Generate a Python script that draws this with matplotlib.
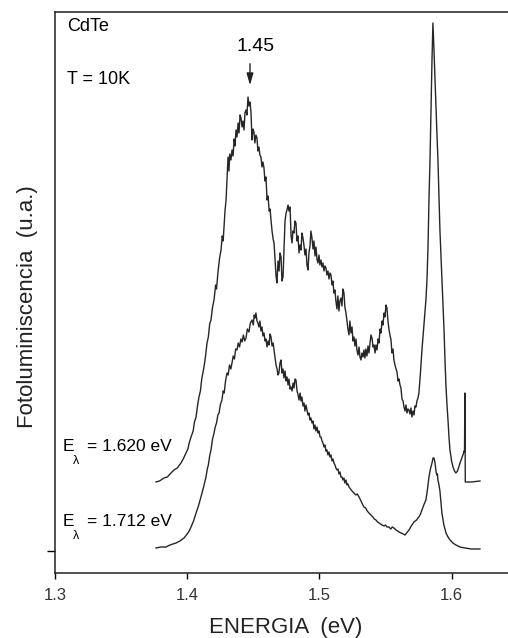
import matplotlib.pyplot as plt

plt.rcParams['font.family'] = ['Liberation Sans', 'DejaVu Sans']

# espectro excitado com E_lambda = 1.620 eV (curva de cima)
energia_1620 = [
    1.3764, 1.3790, 1.3825, 1.3850, 1.3870, 1.3900, 1.3925, 1.3953, 1.3970, 1.3991,
    1.4005, 1.4015, 1.4029, 1.4045, 1.4055, 1.4067, 1.4078, 1.4089, 1.4100, 1.4110,
    1.4127, 1.4137, 1.4150, 1.4160, 1.4170, 1.4180, 1.4192, 1.4203, 1.4215, 1.4222,
    1.4233, 1.4245, 1.4256, 1.4265, 1.4272, 1.4278, 1.4286, 1.4294, 1.4300, 1.4309,
    1.4316, 1.4322, 1.4331, 1.4339, 1.4347, 1.4355, 1.4362, 1.4369, 1.4377, 1.4385,
    1.4392, 1.4400, 1.4407, 1.4415, 1.4422, 1.4430, 1.4437, 1.4445, 1.4452, 1.4460,
    1.4468, 1.4475, 1.4483, 1.4490, 1.4497, 1.4505, 1.4512, 1.4520, 1.4528, 1.4535,
    1.4543, 1.4550, 1.4558, 1.4566, 1.4573, 1.4581, 1.4588, 1.4596, 1.4604, 1.4612,
    1.4620, 1.4627, 1.4634, 1.4642, 1.4650, 1.4657, 1.4665, 1.4672, 1.4679, 1.4687,
    1.4695, 1.4702, 1.4710, 1.4717, 1.4725, 1.4733, 1.4740, 1.4748, 1.4755, 1.4763,
    1.4770, 1.4778, 1.4786, 1.4793, 1.4800, 1.4808, 1.4815, 1.4823, 1.4830, 1.4838,
    1.4846, 1.4853, 1.4861, 1.4868, 1.4876, 1.4884, 1.4891, 1.4899, 1.4906, 1.4914,
    1.4921, 1.4929, 1.4936, 1.4944, 1.4952, 1.4959, 1.4967, 1.4974, 1.4982, 1.4989,
    1.4997, 1.5004, 1.5012, 1.5020, 1.5027, 1.5035, 1.5042, 1.5050, 1.5057, 1.5065,
    1.5073, 1.5080, 1.5088, 1.5095, 1.5103, 1.5110, 1.5118, 1.5125, 1.5133, 1.5140,
    1.5148, 1.5155, 1.5163, 1.5171, 1.5178, 1.5186, 1.5193, 1.5201, 1.5209, 1.5216,
    1.5224, 1.5231, 1.5239, 1.5247, 1.5254, 1.5262, 1.5269, 1.5277, 1.5284, 1.5292,
    1.5300, 1.5307, 1.5315, 1.5322, 1.5330, 1.5337, 1.5345, 1.5352, 1.5360, 1.5368,
    1.5375, 1.5383, 1.5390, 1.5398, 1.5406, 1.5413, 1.5421, 1.5428, 1.5436, 1.5444,
    1.5451, 1.5459, 1.5466, 1.5474, 1.5481, 1.5489, 1.5496, 1.5504, 1.5511, 1.5519,
    1.5526, 1.5534, 1.5542, 1.5549, 1.5557, 1.5564, 1.5572, 1.5580, 1.5587, 1.5595,
    1.5602, 1.5610, 1.5617, 1.5625, 1.5633, 1.5640, 1.5648, 1.5655, 1.5663, 1.5670,
    1.5678, 1.5685, 1.5693, 1.5700, 1.5708, 1.5716, 1.5723, 1.5731, 1.5738, 1.5746,
    1.5753, 1.5763, 1.5776, 1.5790, 1.5806, 1.5814, 1.5822, 1.5829, 1.5837, 1.5845,
    1.5852, 1.5859, 1.5867, 1.5875, 1.5882, 1.5890, 1.5897, 1.5905, 1.5912, 1.5920,
    1.5927, 1.5935, 1.5943, 1.5950, 1.5958, 1.5966, 1.5973, 1.5980, 1.5988, 1.6000,
    1.6011, 1.6022, 1.6033, 1.6045, 1.6055, 1.6064, 1.6075, 1.6086, 1.6095, 1.6098,
    1.6101, 1.6104, 1.6150, 1.6215]
pl_1620 = [
    0.69, 0.70, 0.73, 0.74, 0.77, 0.81, 0.83, 0.88, 0.92, 0.98,
    1.02, 1.08, 1.14, 1.20, 1.29, 1.34, 1.45, 1.54, 1.60, 1.72,
    1.84, 1.93, 2.08, 2.14, 2.27, 2.31, 2.44, 2.51, 2.66, 2.62,
    2.79, 2.93, 3.01, 3.15, 3.10, 3.23, 3.40, 3.51, 3.68, 3.94,
    3.80, 3.97, 3.91, 4.01, 3.95, 4.12, 4.05, 4.21, 4.14, 4.28,
    4.18, 4.36, 4.33, 4.24, 4.30, 4.21, 4.38, 4.41, 4.36, 4.54,
    4.45, 4.49, 4.38, 4.11, 4.22, 4.19, 4.08, 4.16, 4.13, 4.00,
    4.04, 3.96, 3.94, 3.84, 3.89, 3.83, 3.70, 3.74, 3.51, 3.55,
    3.40, 3.42, 3.31, 3.20, 3.12, 3.08, 2.90, 2.75, 2.68, 2.90,
    2.80, 2.98, 2.94, 2.70, 2.74, 3.05, 3.30, 3.38, 3.41, 3.46,
    3.40, 3.44, 3.15, 3.08, 3.20, 3.18, 3.30, 3.28, 3.10, 3.15,
    2.98, 3.06, 3.01, 3.18, 3.13, 3.05, 2.96, 3.02, 2.86, 2.81,
    2.98, 3.05, 3.20, 3.13, 3.02, 3.10, 2.95, 3.04, 2.92, 2.88,
    2.96, 2.86, 2.91, 2.84, 2.88, 2.80, 2.85, 2.83, 2.76, 2.80,
    2.72, 2.78, 2.76, 2.66, 2.70, 2.58, 2.61, 2.50, 2.42, 2.55,
    2.40, 2.50, 2.53, 2.45, 2.62, 2.58, 2.44, 2.38, 2.30, 2.22,
    2.16, 2.30, 2.18, 2.24, 2.10, 2.14, 2.05, 2.12, 2.01, 1.96,
    2.04, 1.94, 1.91, 1.98, 1.94, 2.01, 1.93, 2.02, 1.95, 2.05,
    1.98, 2.08, 2.16, 2.13, 2.04, 2.06, 1.98, 2.06, 2.01, 2.12,
    2.08, 2.22, 2.18, 2.30, 2.26, 2.38, 2.34, 2.46, 2.43, 2.30,
    2.22, 2.16, 2.11, 1.98, 2.02, 1.91, 1.86, 1.82, 1.79, 1.70,
    1.72, 1.66, 1.63, 1.52, 1.50, 1.44, 1.40, 1.46, 1.38, 1.42,
    1.41, 1.37, 1.43, 1.34, 1.40, 1.36, 1.45, 1.44, 1.50, 1.53,
    1.58, 1.75, 2.01, 2.25, 2.51, 2.71, 3.05, 3.51, 3.91, 4.45,
    4.91, 5.28, 5.01, 4.70, 4.41, 4.15, 3.91, 3.55, 3.21, 2.95,
    2.71, 2.45, 2.21, 1.92, 1.64, 1.45, 1.31, 1.15, 1.01, 0.90,
    0.84, 0.80, 0.78, 0.80, 0.84, 0.88, 0.92, 0.96, 1.00, 0.99,
    1.58, 0.69, 0.69, 0.70]

# espectro excitado com E_lambda = 1.712 eV (curva de baixo)
energia_1712 = [
    1.3764, 1.3800, 1.3840, 1.3870, 1.3915, 1.3945, 1.3976, 1.4000, 1.4015, 1.4029,
    1.4048, 1.4067, 1.4085, 1.4104, 1.4122, 1.4142, 1.4152, 1.4160, 1.4170, 1.4180,
    1.4192, 1.4203, 1.4212, 1.4222, 1.4232, 1.4241, 1.4252, 1.4263, 1.4272, 1.4280,
    1.4290, 1.4301, 1.4310, 1.4320, 1.4330, 1.4339, 1.4348, 1.4357, 1.4367, 1.4377,
    1.4386, 1.4396, 1.4406, 1.4415, 1.4425, 1.4435, 1.4445, 1.4455, 1.4467, 1.4478,
    1.4490, 1.4500, 1.4507, 1.4513, 1.4520, 1.4528, 1.4535, 1.4543, 1.4550, 1.4558,
    1.4566, 1.4573, 1.4581, 1.4589, 1.4596, 1.4604, 1.4612, 1.4619, 1.4627, 1.4634,
    1.4642, 1.4650, 1.4657, 1.4665, 1.4672, 1.4680, 1.4687, 1.4694, 1.4702, 1.4710,
    1.4717, 1.4725, 1.4732, 1.4740, 1.4748, 1.4755, 1.4763, 1.4770, 1.4778, 1.4785,
    1.4793, 1.4801, 1.4808, 1.4816, 1.4823, 1.4831, 1.4839, 1.4846, 1.4854, 1.4861,
    1.4868, 1.4876, 1.4884, 1.4891, 1.4899, 1.4906, 1.4914, 1.4921, 1.4929, 1.4936,
    1.4944, 1.4952, 1.4959, 1.4967, 1.4974, 1.4982, 1.4990, 1.4997, 1.5005, 1.5012,
    1.5020, 1.5027, 1.5035, 1.5042, 1.5050, 1.5057, 1.5065, 1.5073, 1.5080, 1.5088,
    1.5095, 1.5103, 1.5110, 1.5118, 1.5125, 1.5133, 1.5141, 1.5148, 1.5156, 1.5163,
    1.5171, 1.5178, 1.5186, 1.5193, 1.5201, 1.5209, 1.5216, 1.5224, 1.5235, 1.5247,
    1.5262, 1.5275, 1.5287, 1.5300, 1.5315, 1.5325, 1.5337, 1.5350, 1.5362, 1.5375,
    1.5390, 1.5405, 1.5415, 1.5428, 1.5440, 1.5452, 1.5463, 1.5474, 1.5490, 1.5500,
    1.5512, 1.5526, 1.5540, 1.5552, 1.5564, 1.5580, 1.5592, 1.5602, 1.5618, 1.5635,
    1.5648, 1.5660, 1.5678, 1.5695, 1.5716, 1.5735, 1.5753, 1.5765, 1.5776, 1.5790,
    1.5806, 1.5818, 1.5829, 1.5840, 1.5852, 1.5860, 1.5867, 1.5875, 1.5882, 1.5888,
    1.5893, 1.5897, 1.5905, 1.5912, 1.5920, 1.5927, 1.5942, 1.5958, 1.5973, 1.5988,
    1.6010, 1.6033, 1.6064, 1.6100, 1.6150, 1.6215]
pl_1712 = [
    0.03, 0.04, 0.04, 0.06, 0.08, 0.10, 0.13, 0.17, 0.20, 0.24,
    0.30, 0.38, 0.45, 0.54, 0.63, 0.74, 0.82, 0.86, 0.95, 1.01,
    1.12, 1.18, 1.24, 1.28, 1.36, 1.38, 1.47, 1.51, 1.60, 1.58,
    1.70, 1.78, 1.76, 1.86, 1.82, 1.88, 1.95, 1.92, 2.02, 2.01,
    2.08, 2.04, 2.12, 2.09, 2.16, 2.10, 2.13, 2.22, 2.19, 2.28,
    2.31, 2.26, 2.36, 2.33, 2.38, 2.30, 2.28, 2.24, 2.30, 2.20,
    2.24, 2.15, 2.18, 2.10, 2.12, 2.04, 2.10, 2.06, 2.17, 2.14,
    2.05, 2.08, 2.01, 1.93, 1.86, 1.82, 1.76, 1.78, 1.88, 1.91,
    1.78, 1.82, 1.73, 1.80, 1.70, 1.74, 1.66, 1.72, 1.62, 1.64,
    1.60, 1.68, 1.63, 1.72, 1.71, 1.60, 1.56, 1.51, 1.58, 1.50,
    1.54, 1.45, 1.48, 1.40, 1.46, 1.41, 1.36, 1.38, 1.31, 1.33,
    1.28, 1.30, 1.22, 1.26, 1.20, 1.24, 1.18, 1.20, 1.14, 1.14,
    1.10, 1.08, 1.04, 1.06, 1.00, 1.01, 0.96, 0.99, 0.94, 0.96,
    0.90, 0.92, 0.88, 0.86, 0.83, 0.81, 0.82, 0.77, 0.79, 0.74,
    0.74, 0.71, 0.73, 0.68, 0.71, 0.66, 0.67, 0.64, 0.62, 0.60,
    0.58, 0.56, 0.57, 0.54, 0.50, 0.47, 0.44, 0.43, 0.40, 0.38,
    0.36, 0.34, 0.32, 0.31, 0.29, 0.28, 0.27, 0.26, 0.25, 0.26,
    0.24, 0.24, 0.22, 0.24, 0.23, 0.21, 0.20, 0.19, 0.18, 0.17,
    0.16, 0.18, 0.21, 0.25, 0.29, 0.31, 0.34, 0.37, 0.41, 0.46,
    0.51, 0.62, 0.74, 0.82, 0.88, 0.93, 0.93, 0.88, 0.80, 0.76,
    0.77, 0.71, 0.66, 0.60, 0.48, 0.38, 0.26, 0.18, 0.14, 0.11,
    0.08, 0.06, 0.04, 0.03, 0.02, 0.02]

xticks = [1.3, 1.4, 1.5, 1.6]
xtick_labels = ['1.3', '1.4', '1.5', '1.6']

fig = plt.figure(figsize=(5.08, 6.38), dpi=100)
ax = fig.add_axes([0.1083, 0.1019, 0.8917, 0.8793])

ax.plot(energia_1620, pl_1620, color='#262626', lw=1.0)
ax.plot(energia_1712, pl_1712, color='#262626', lw=1.0)

ax.set_xlim(1.3, 1.6427)
ax.set_ylim(-0.22, 5.39)

ax.spines['right'].set_visible(False)
for s in ['left', 'top', 'bottom']:
    ax.spines[s].set_linewidth(1.1)
    ax.spines[s].set_color('#222222')

ax.set_xticks(xticks)
ax.set_xticklabels(xtick_labels, fontsize=12, color='#333333')
ax.set_yticks([0])
ax.set_yticklabels([])
ax.tick_params(axis='x', direction='out', length=4, width=1.0, pad=7)
ax.tick_params(axis='y', direction='out', length=6, width=1.0)

ax.set_xlabel('ENERGIA  (eV)', fontsize=16, color='#222222')
ax.xaxis.set_label_coords(0.509, -0.078)
ax.set_ylabel('Fotoluminiscencia  (u.a.)', fontsize=16, color='#222222')
ax.yaxis.set_label_coords(-0.038, 0.474)

ax.text(0.0265, 0.989, 'CdTe', transform=ax.transAxes, fontsize=13, va='top', ha='left')
ax.text(0.0265, 0.895, 'T = 10K', transform=ax.transAxes, fontsize=13, va='top', ha='left')

# pico em 1.45 eV
ax.text(1.4517, 5.04, '1.45', fontsize=14, ha='center', va='center')
ax.annotate('', xy=(1.4475, 4.63), xytext=(1.4475, 4.90),
            arrowprops=dict(arrowstyle='-|>,head_length=0.7,head_width=0.2', color='#222222', lw=1.0))

# rotulos das energias de excitacao
for y, texto in [(0.2246, '= 1.620 eV'), (0.0909, '= 1.712 eV')]:
    ax.text(0.0177, y, 'E', transform=ax.transAxes, fontsize=12.5, va='center', ha='left')
    ax.text(0.040, y - 0.025, 'λ', transform=ax.transAxes, fontsize=9, va='center', ha='left')
    ax.text(0.0706, y, texto, transform=ax.transAxes, fontsize=12.5, va='center', ha='left')

plt.savefig('out.png', dpi=100)
